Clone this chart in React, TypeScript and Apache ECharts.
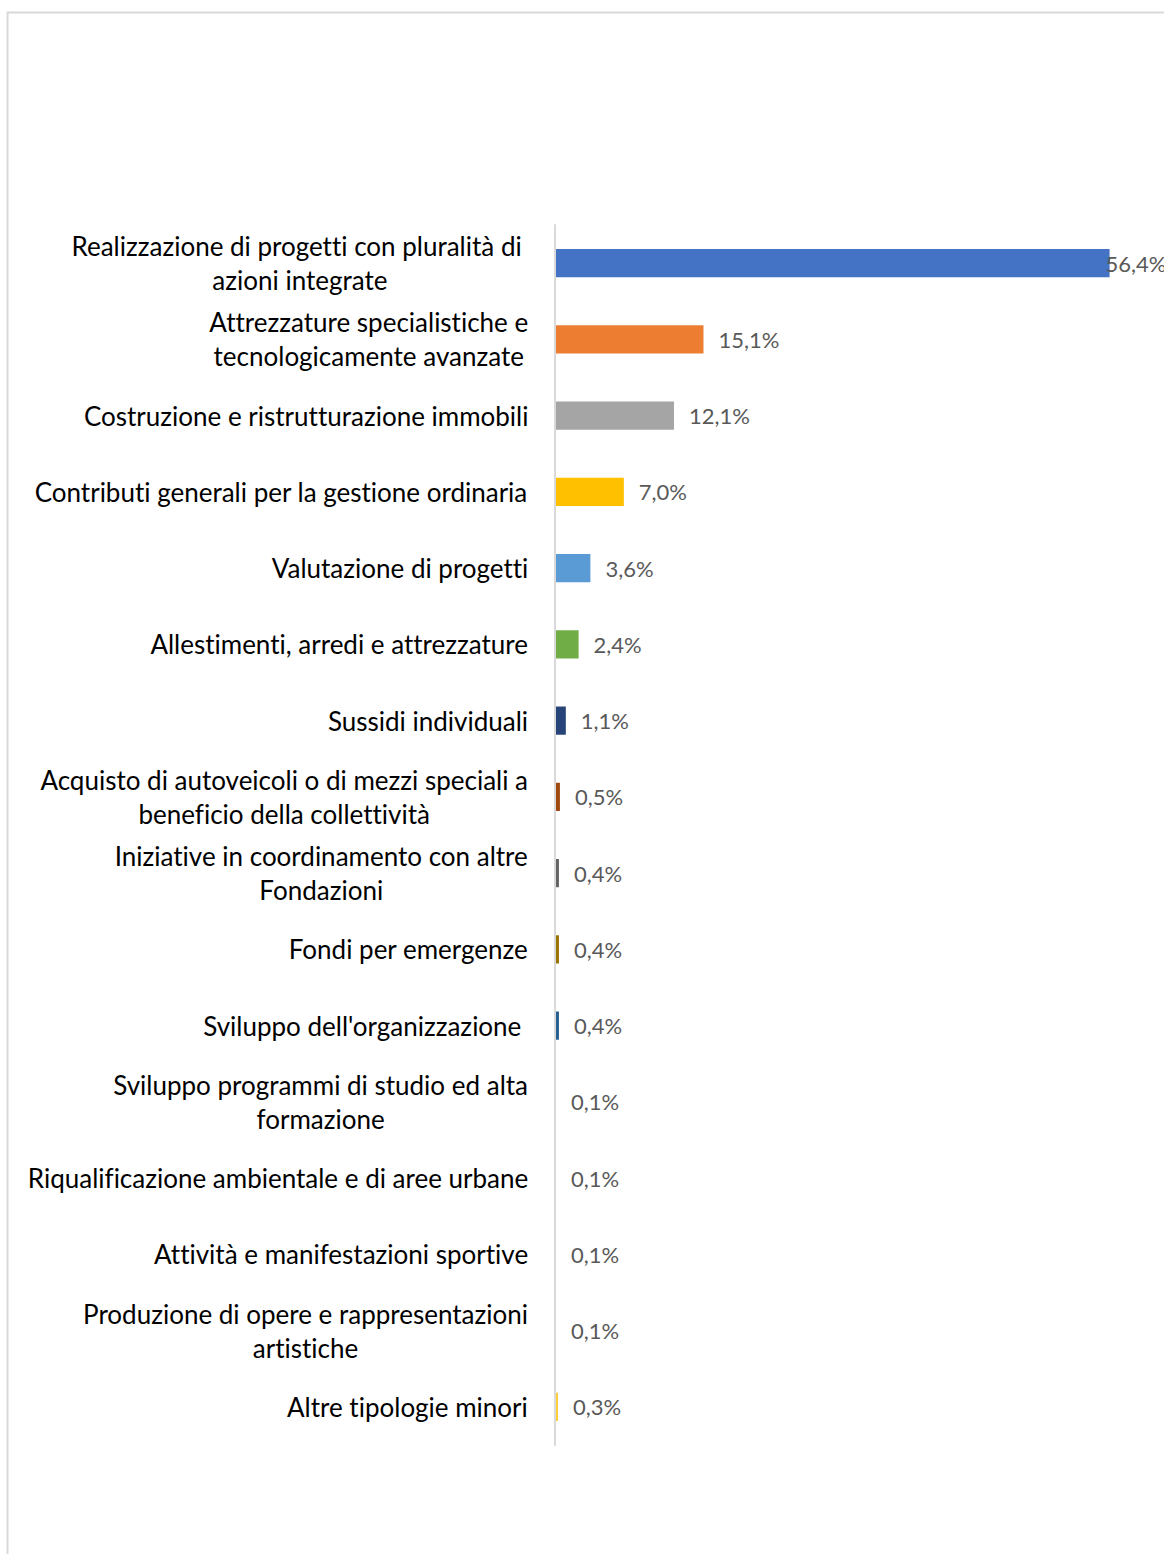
import React, { useEffect, useRef } from "react";
import * as echarts from "echarts";

const categories: string[] = [
  "Realizzazione di progetti con pluralità di \nazioni integrate",
  "Attrezzature specialistiche e\ntecnologicamente avanzate",
  "Costruzione e ristrutturazione immobili",
  "Contributi generali per la gestione ordinaria",
  "Valutazione di progetti",
  "Allestimenti, arredi e attrezzature",
  "Sussidi individuali",
  "Acquisto di autoveicoli o di mezzi speciali a\nbeneficio della collettività",
  "Iniziative in coordinamento con altre\nFondazioni",
  "Fondi per emergenze",
  "Sviluppo dell'organizzazione ",
  "Sviluppo programmi di studio ed alta\nformazione",
  "Riqualificazione ambientale e di aree urbane",
  "Attività e manifestazioni sportive",
  "Produzione di opere e rappresentazioni\nartistiche",
  "Altre tipologie minori",
];

const values: number[] = [56.4, 15.1, 12.1, 7.0, 3.6, 2.4, 1.1, 0.5, 0.4, 0.4, 0.4, 0.1, 0.1, 0.1, 0.1, 0.3];

const colors: string[] = [
  "#4472C4", "#ED7D31", "#A5A5A5", "#FFC000", "#5B9BD5", "#70AD47", "#264478", "#9E480E",
  "#636363", "#997300", "#255E91", "#43682B", "#698ED0", "#F1975A", "#B7B7B7", "#FFCD33",
];

const FONT = "Lato";

export default function App() {
  const ref = useRef<HTMLDivElement>(null);
  useEffect(() => {
    if (!ref.current) return;
    const chart = echarts.init(ref.current, null, { renderer: "svg" });
    chart.setOption({
      animation: false,
      backgroundColor: "#ffffff",
      graphic: [
        {
          type: "rect",
          shape: { x: 7.5, y: 12.5, width: 1300, height: 1700 },
          style: { fill: "none", stroke: "#d9d9d9", lineWidth: 2 },
          silent: true,
        },
      ],
      grid: { left: 555, right: 19, top: 225, bottom: 109, containLabel: false },
      xAxis: {
        type: "value",
        min: 0,
        max: 60,
        show: false,
        splitLine: { show: false },
      },
      yAxis: {
        type: "category",
        inverse: true,
        z: 5,
        data: categories,
        axisTick: { show: false },
        axisLine: { lineStyle: { color: "#d9d9d9", width: 2 } },
        axisLabel: {
          margin: 27,
          color: "#000000",
          fontFamily: FONT,
          fontSize: 26,
          lineHeight: 34,
          formatter: (v: string) =>
            v
              .split("\n")
              .map((l) => `{c|${l}}`)
              .join("\n"),
          rich: {
            c: { align: "center", fontFamily: FONT, fontSize: 26, lineHeight: 34, color: "#000000" },
          },
        },
      },
      series: [
        {
          type: "bar",
          barCategoryGap: "63%",
          data: values.map((v, i) => ({
            value: v,
            itemStyle: { color: colors[i] },
            label: i === 0 ? { offset: [-19, 0] } : undefined,
          })),
          label: {
            show: true,
            position: "right",
            distance: 15,
            fontFamily: FONT,
            fontSize: 22,
            color: "#595959",
            formatter: (p: any) => p.value.toFixed(1).replace(".", ",") + "%",
          },
        },
      ],
    });
    return () => chart.dispose();
  }, []);
  return (
    <>
      <style>{"svg text { font-variant-ligatures: none; font-feature-settings: 'liga' 0; }"}</style>
      <div
        ref={ref}
        style={{ position: "absolute", left: 0, top: 0, width: 1164, height: 1554 }}
      />
    </>
  );
}
